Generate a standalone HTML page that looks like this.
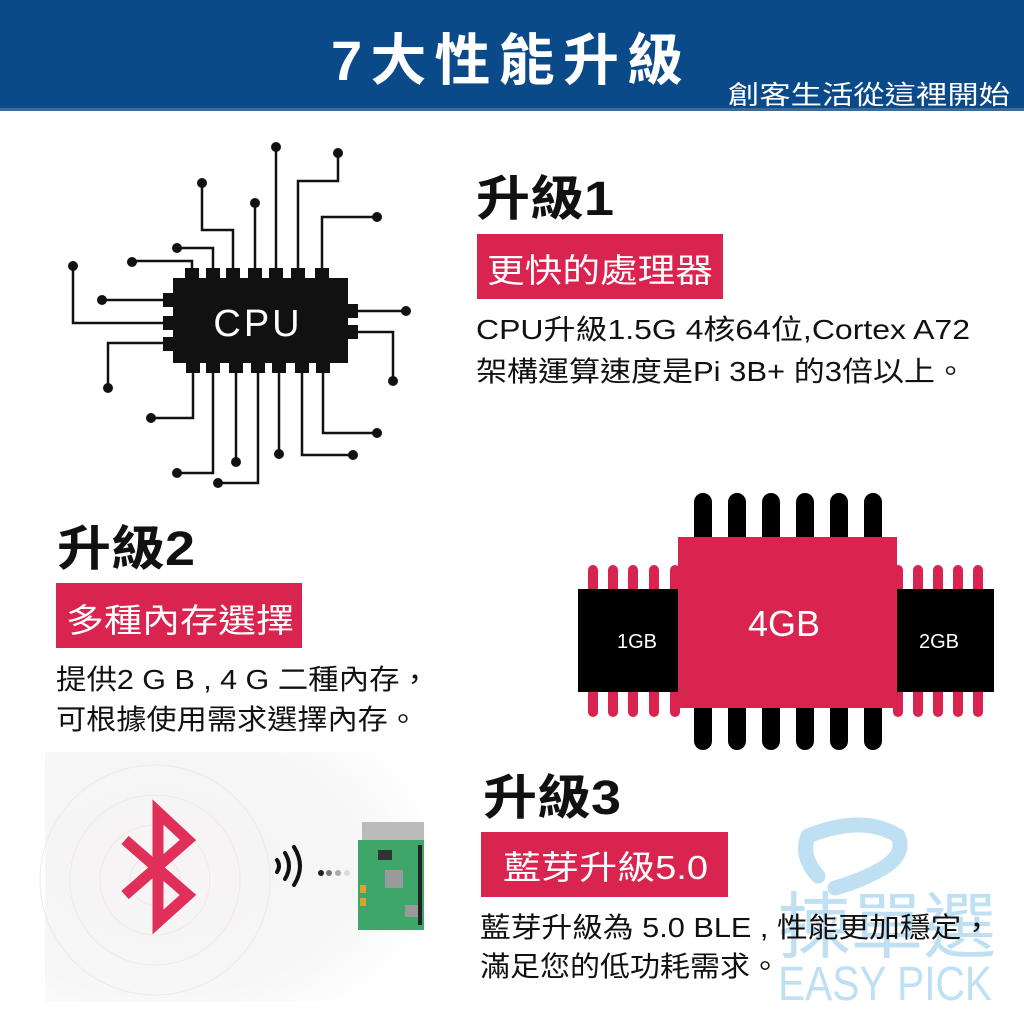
<!DOCTYPE html>
<html><head><meta charset="utf-8"><style>
html,body{margin:0;padding:0;background:#fff;}
svg{display:block}
text{font-family:"Liberation Sans","Noto Sans CJK TC",sans-serif;}
</style></head><body>
<svg width="1024" height="1024" viewBox="0 0 1024 1024" xmlns="http://www.w3.org/2000/svg">
<defs>
<radialGradient id="bg" cx="0.3" cy="0.45" r="0.75">
<stop offset="0" stop-color="#f6f3f3"/><stop offset="0.7" stop-color="#f7f7f7"/><stop offset="1" stop-color="#ffffff"/>
</radialGradient>
</defs>
<rect width="1024" height="1024" fill="#fff"/>
<!-- header -->
<rect x="0" y="0" width="1024" height="110" fill="#0b4a88"/>
<rect x="0" y="108" width="1024" height="3" fill="#3c6b9a"/>
<text x="512" y="80" text-anchor="middle" font-size="56" font-weight="bold" fill="#fff" letter-spacing="10" textLength="362" lengthAdjust="spacing">7大性能升級</text>
<text x="728" y="104" font-size="26" fill="#fff" textLength="282" lengthAdjust="spacingAndGlyphs">創客生活從這裡開始</text>

<!-- CPU -->
<g stroke="#111" stroke-width="2.5" fill="none">
<polyline points="192,275 192,261 132,261"/>
<polyline points="213,275 213,248 177,248"/>
<polyline points="233,275 233,230 202,230 202,183"/>
<polyline points="255,275 255,203"/>
<polyline points="276,275 276,147"/>
<polyline points="298,275 298,181 338,181 338,153"/>
<polyline points="322,275 322,217 377,217"/>
<polyline points="170,300 102,300"/>
<polyline points="170,323 73,323 73,266"/>
<polyline points="170,343 108,343 108,388"/>
<polyline points="350,311 406,311"/>
<polyline points="350,332 393,332 393,381"/>
<polyline points="193,365 193,418 151,418"/>
<polyline points="213,365 213,473 177,473"/>
<polyline points="236,365 236,462"/>
<polyline points="258,365 258,483 218,483"/>
<polyline points="279,365 279,454"/>
<polyline points="302,365 302,455 353,455"/>
<polyline points="323,365 323,433 377,433"/>
</g>
<g fill="#111">
<circle cx="132" cy="262" r="5"/><circle cx="177" cy="248" r="5"/><circle cx="202" cy="183" r="5"/>
<circle cx="255" cy="203" r="5"/><circle cx="276" cy="147" r="5"/><circle cx="338" cy="153" r="5"/>
<circle cx="377" cy="217" r="5"/><circle cx="102" cy="300" r="5"/><circle cx="73" cy="266" r="5"/>
<circle cx="108" cy="388" r="5"/><circle cx="406" cy="311" r="5"/><circle cx="393" cy="381" r="5"/>
<circle cx="151" cy="418" r="5"/><circle cx="177" cy="473" r="5"/><circle cx="236" cy="462" r="5"/>
<circle cx="218" cy="483" r="5"/><circle cx="279" cy="454" r="5"/><circle cx="353" cy="455" r="5"/>
<circle cx="377" cy="433" r="5"/>
<rect x="173" y="278" width="175" height="85"/>
<rect x="185" y="268" width="14" height="18"/><rect x="206" y="268" width="14" height="18"/><rect x="226" y="268" width="14" height="18"/>
<rect x="248" y="268" width="14" height="18"/><rect x="269" y="268" width="14" height="18"/><rect x="291" y="268" width="14" height="18"/>
<rect x="315" y="268" width="14" height="18"/>
<rect x="186" y="355" width="14" height="18"/><rect x="206" y="355" width="14" height="18"/><rect x="229" y="355" width="14" height="18"/>
<rect x="251" y="355" width="14" height="18"/><rect x="272" y="355" width="14" height="18"/><rect x="295" y="355" width="14" height="18"/>
<rect x="316" y="355" width="14" height="18"/>
<rect x="163" y="293" width="16" height="14"/><rect x="163" y="316" width="16" height="14"/><rect x="163" y="337" width="16" height="14"/>
<rect x="342" y="304" width="16" height="14"/><rect x="342" y="325" width="16" height="14"/>
</g>
<text x="258" y="336" text-anchor="middle" font-size="38" fill="#fff" letter-spacing="3">CPU</text>

<!-- section 1 -->
<text x="476" y="215" font-size="48" font-weight="bold" fill="#111" textLength="138" lengthAdjust="spacingAndGlyphs">升級1</text>
<rect x="477" y="234" width="246" height="65" fill="#d9244f"/>
<text x="487" y="282" font-size="33" fill="#fff" textLength="226" lengthAdjust="spacingAndGlyphs">更快的處理器</text>
<text x="476" y="339" font-size="28" fill="#111" textLength="494" lengthAdjust="spacingAndGlyphs">CPU升級1.5G 4核64位,Cortex A72</text>
<text x="476" y="381" font-size="28" fill="#111" textLength="490" lengthAdjust="spacingAndGlyphs">架構運算速度是Pi 3B+ 的3倍以上。</text>

<!-- memory chips -->
<g fill="#d9244f">
<rect x="588" y="565" width="10" height="152" rx="5"/><rect x="608" y="565" width="10" height="152" rx="5"/><rect x="628" y="565" width="10" height="152" rx="5"/><rect x="649" y="565" width="10" height="152" rx="5"/><rect x="670" y="565" width="10" height="152" rx="5"/>
<rect x="893" y="565" width="10" height="152" rx="5"/><rect x="913" y="565" width="10" height="152" rx="5"/><rect x="933" y="565" width="10" height="152" rx="5"/><rect x="953" y="565" width="10" height="152" rx="5"/><rect x="973" y="565" width="10" height="152" rx="5"/>
</g>
<g fill="#000">
<rect x="578" y="589" width="100" height="103"/><rect x="897" y="589" width="97" height="103"/>
<rect x="694" y="493" width="18" height="257" rx="9"/><rect x="728" y="493" width="18" height="257" rx="9"/><rect x="762" y="493" width="18" height="257" rx="9"/>
<rect x="796" y="493" width="18" height="257" rx="9"/><rect x="830" y="493" width="18" height="257" rx="9"/><rect x="864" y="493" width="18" height="257" rx="9"/>
</g>
<rect x="678" y="537" width="219" height="171" fill="#d9244f"/>
<text x="784" y="636" text-anchor="middle" font-size="36" fill="#fff">4GB</text>
<text x="637" y="648" text-anchor="middle" font-size="20" fill="#fff">1GB</text>
<text x="939" y="648" text-anchor="middle" font-size="20" fill="#fff">2GB</text>

<!-- section 2 -->
<text x="57" y="565" font-size="48" font-weight="bold" fill="#111" textLength="138" lengthAdjust="spacingAndGlyphs">升級2</text>
<rect x="56" y="583" width="246" height="65" fill="#d9244f"/>
<text x="66" y="632" font-size="33" fill="#fff" textLength="228" lengthAdjust="spacingAndGlyphs">多種內存選擇</text>
<text x="56" y="689" font-size="28" fill="#111" textLength="374" lengthAdjust="spacingAndGlyphs">提供2 G B , 4 G 二種內存，</text>
<text x="56" y="729" font-size="28" fill="#111" textLength="362" lengthAdjust="spacingAndGlyphs">可根據使用需求選擇內存。</text>

<!-- bluetooth area -->
<rect x="45" y="752" width="385" height="250" fill="url(#bg)"/>
<g fill="none" stroke="#f3e6e6" stroke-width="1">
<circle cx="155" cy="880" r="25"/><circle cx="155" cy="880" r="55"/><circle cx="155" cy="880" r="85"/><circle cx="155" cy="880" r="115"/>
</g>
<polyline points="125,840 188,895 158,922 158,812 188,840 125,895" fill="none" stroke="#e0305a" stroke-width="11" stroke-linejoin="miter"/>
<g fill="none" stroke="#111" stroke-width="4" stroke-linecap="round">
<path d="M277 860 q4 6 0 12"/><path d="M285 853 q8 13 0 26"/><path d="M294 847 q12 19 0 38"/>
</g>
<circle cx="321" cy="873" r="3" fill="#222"/><circle cx="329" cy="873" r="3" fill="#777"/><circle cx="338" cy="873" r="3" fill="#aaa"/><circle cx="347" cy="873" r="3" fill="#ddd"/>
<rect x="362" y="822" width="62" height="22" fill="#bbb"/>
<rect x="358" y="840" width="66" height="90" fill="#3fa66a"/>
<rect x="385" y="870" width="18" height="18" fill="#9a9a9a"/>
<rect x="378" y="850" width="14" height="10" fill="#333"/>
<rect x="405" y="905" width="14" height="12" fill="#999"/>
<rect x="418" y="845" width="4" height="80" fill="#222"/>
<rect x="360" y="885" width="6" height="8" fill="#e0a030"/><rect x="360" y="898" width="6" height="8" fill="#e0a030"/>

<!-- watermark -->
<path d="M808 836 q55 -22 90 0 q8 18 -15 32 q-20 12 -48 20 M808 836 q-8 20 10 40" fill="none" stroke="#bfe0f3" stroke-width="15" stroke-linecap="round"/>
<text x="778" y="952" font-size="72" fill="#bfe0f3" textLength="218" lengthAdjust="spacingAndGlyphs">揀單選</text>
<text x="778" y="1000" font-size="48" fill="#bfe0f3" textLength="214" lengthAdjust="spacingAndGlyphs">EASY PICK</text>

<!-- section 3 -->
<text x="483" y="814" font-size="48" font-weight="bold" fill="#111" textLength="138" lengthAdjust="spacingAndGlyphs">升級3</text>
<rect x="481" y="832" width="247" height="65" fill="#d9244f"/>
<text x="503" y="879" font-size="33" fill="#fff" textLength="205" lengthAdjust="spacingAndGlyphs">藍芽升級5.0</text>
<text x="480" y="937" font-size="28" fill="#111" textLength="512" lengthAdjust="spacingAndGlyphs">藍芽升級為 5.0 BLE , 性能更加穩定，</text>
<text x="480" y="976" font-size="28" fill="#111" textLength="300" lengthAdjust="spacingAndGlyphs">滿足您的低功耗需求。</text>
</svg>
</body></html>
